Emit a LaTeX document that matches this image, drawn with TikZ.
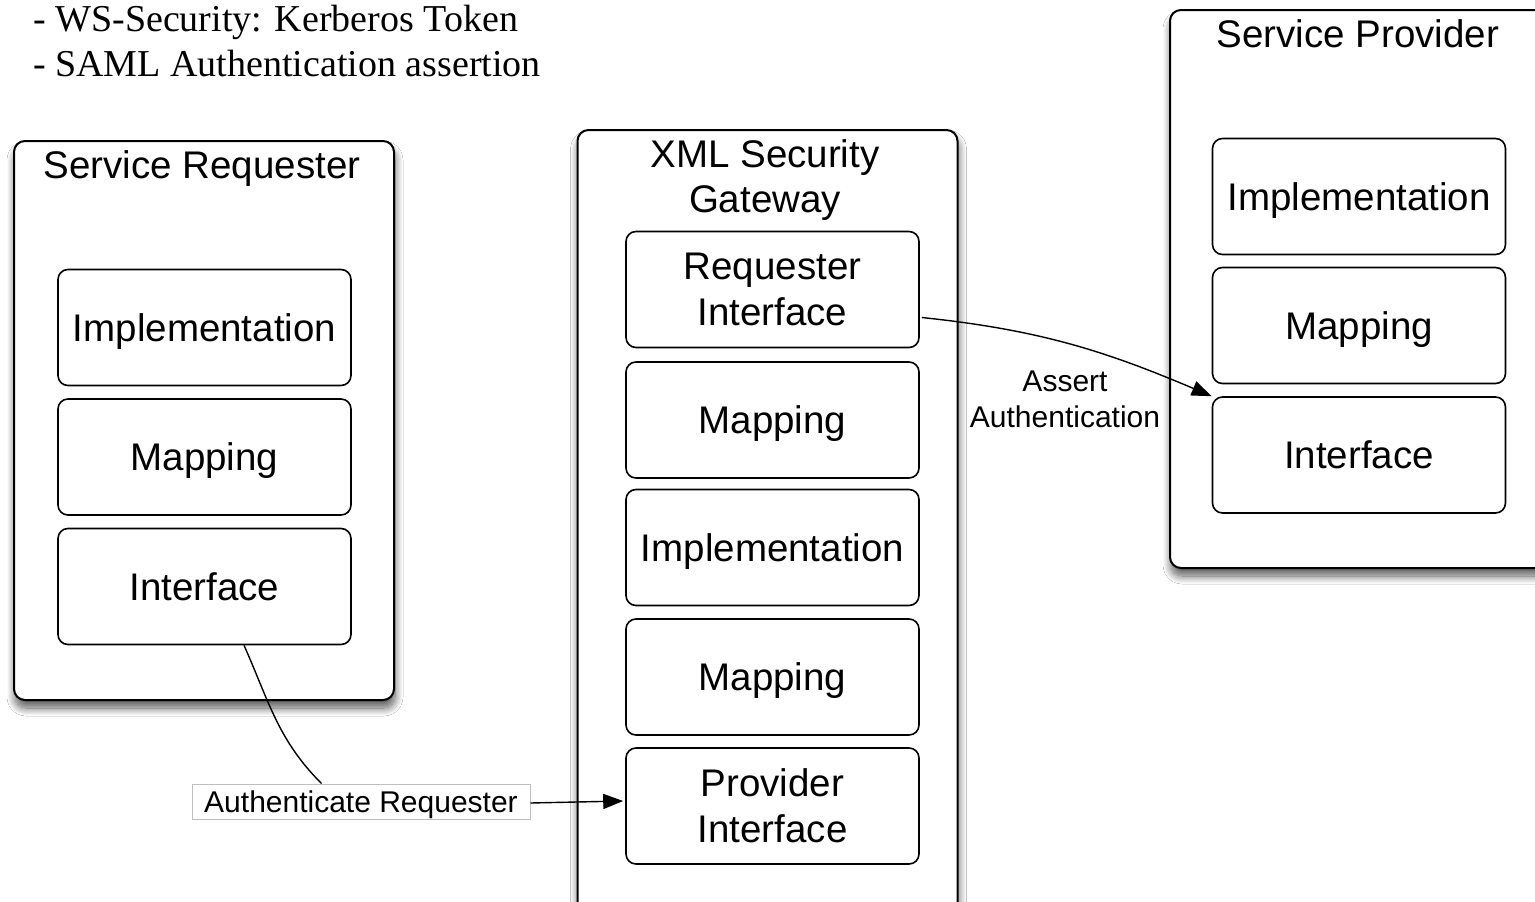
\documentclass[tikz,border=0pt]{standalone}
\usepackage{fontspec}
\setmainfont{Liberation Sans}
\newfontfamily\serifx{Liberation Serif}
\usetikzlibrary{arrows.meta,shadows.blur,calc}
\begin{document}
\begin{tikzpicture}[x=1pt,y=-1pt,
  outerbox/.style={draw, line width=2pt, rounded corners=11pt, fill=white,
    minimum width=380pt, inner sep=0pt,
    blur shadow={shadow xshift=1pt, shadow yshift=-8pt, shadow blur radius=8pt,
      shadow blur steps=12, shadow opacity=65}},
  part/.style={draw, line width=1.6pt, rounded corners=10pt, fill=white,
    minimum width=293pt, minimum height=116pt, align=center, inner sep=0pt,
    font=\fontsize{38.5}{46}\selectfont},
  onepart/.style={part, text height=35.6pt, text depth=8pt},
  title/.style={align=center, inner sep=0pt, font=\fontsize{38.5}{45}\selectfont},
  lbl/.style={align=center, inner sep=0pt, font=\fontsize{30}{36}\selectfont},
  conn/.style={draw, line width=1.4pt},
  arr/.style={conn, -{Triangle[length=20pt,width=15pt]}}
]
\useasboundingbox (0,0) rectangle (1535,902);
\clip (0,0) rectangle (1535,902);
\fill[white] (0,0) rectangle (1535,902);

% notes
\node[anchor=base west, inner sep=0pt, font=\serifx\fontsize{38}{44}\selectfont] (n1) at (33,31) {- WS-Security: Kerberos Token};
\node[anchor=base west, inner sep=0pt, font=\serifx\fontsize{38}{44}\selectfont] (n2) at (33,76) {- SAML Authentication assertion};

% Service Requester
\node[outerbox, minimum height=559pt] (sr) at (204,420.5) {};
\node[title, anchor=base] (srt) at (202,178) {Service Requester};
\node[onepart] (srimpl) at (204.5,327.5) {Implementation};
\node[onepart] (srmap) at (204.5,457) {Mapping};
\node[onepart] (srint) at (204.5,586.5) {Interface};

% XML Security Gateway
\node[outerbox, minimum height=800pt] (gw) at (767.5,530) {};
\node[title, anchor=base] (gwt) at (765,212) {XML Security\\Gateway};
\node[part] (gri) at (772.5,289.5) {Requester\\Interface};
\node[onepart] (gmap1) at (772.5,420) {Mapping};
\node[onepart] (gimpl) at (772.5,547.5) {Implementation};
\node[onepart] (gmap2) at (772.5,677) {Mapping};
\node[part] (gpi) at (772.5,806) {Provider\\Interface};

% Service Provider
\node[outerbox, minimum height=558pt] (sp) at (1360,289) {};
\node[title, anchor=base] (spt) at (1358,47) {Service Provider};
\node[onepart] (spimpl) at (1359,196.5) {Implementation};
\node[onepart] (spmap) at (1359,325.5) {Mapping};
\node[onepart] (spint) at (1359,455) {Interface};

% Assert Authentication
\node[lbl] (aa) at (1065,399) {Assert\\Authentication};
\draw[arr] ($(gri.east)+(2,28)$) to[out=-6,in=157] (spint.north west);

% Authenticate Requester
\node[draw=black!25, line width=1pt, fill=white, inner sep=0pt,
  minimum width=338pt, minimum height=35pt, text height=28.5pt, text depth=6pt,
  font=\fontsize{30}{36}\selectfont] (ar) at (361,801.5) {Authenticate Requester};
\draw[conn] ($(srint.south)+(39.5,0)$) to[out=-66,in=135] ($(ar.north west)+(130,0)$);
\draw[arr] ($(ar.east)+(0,1.5)$) -- ($(gpi.west)+(-2,-5)$);
\end{tikzpicture}
\end{document}
